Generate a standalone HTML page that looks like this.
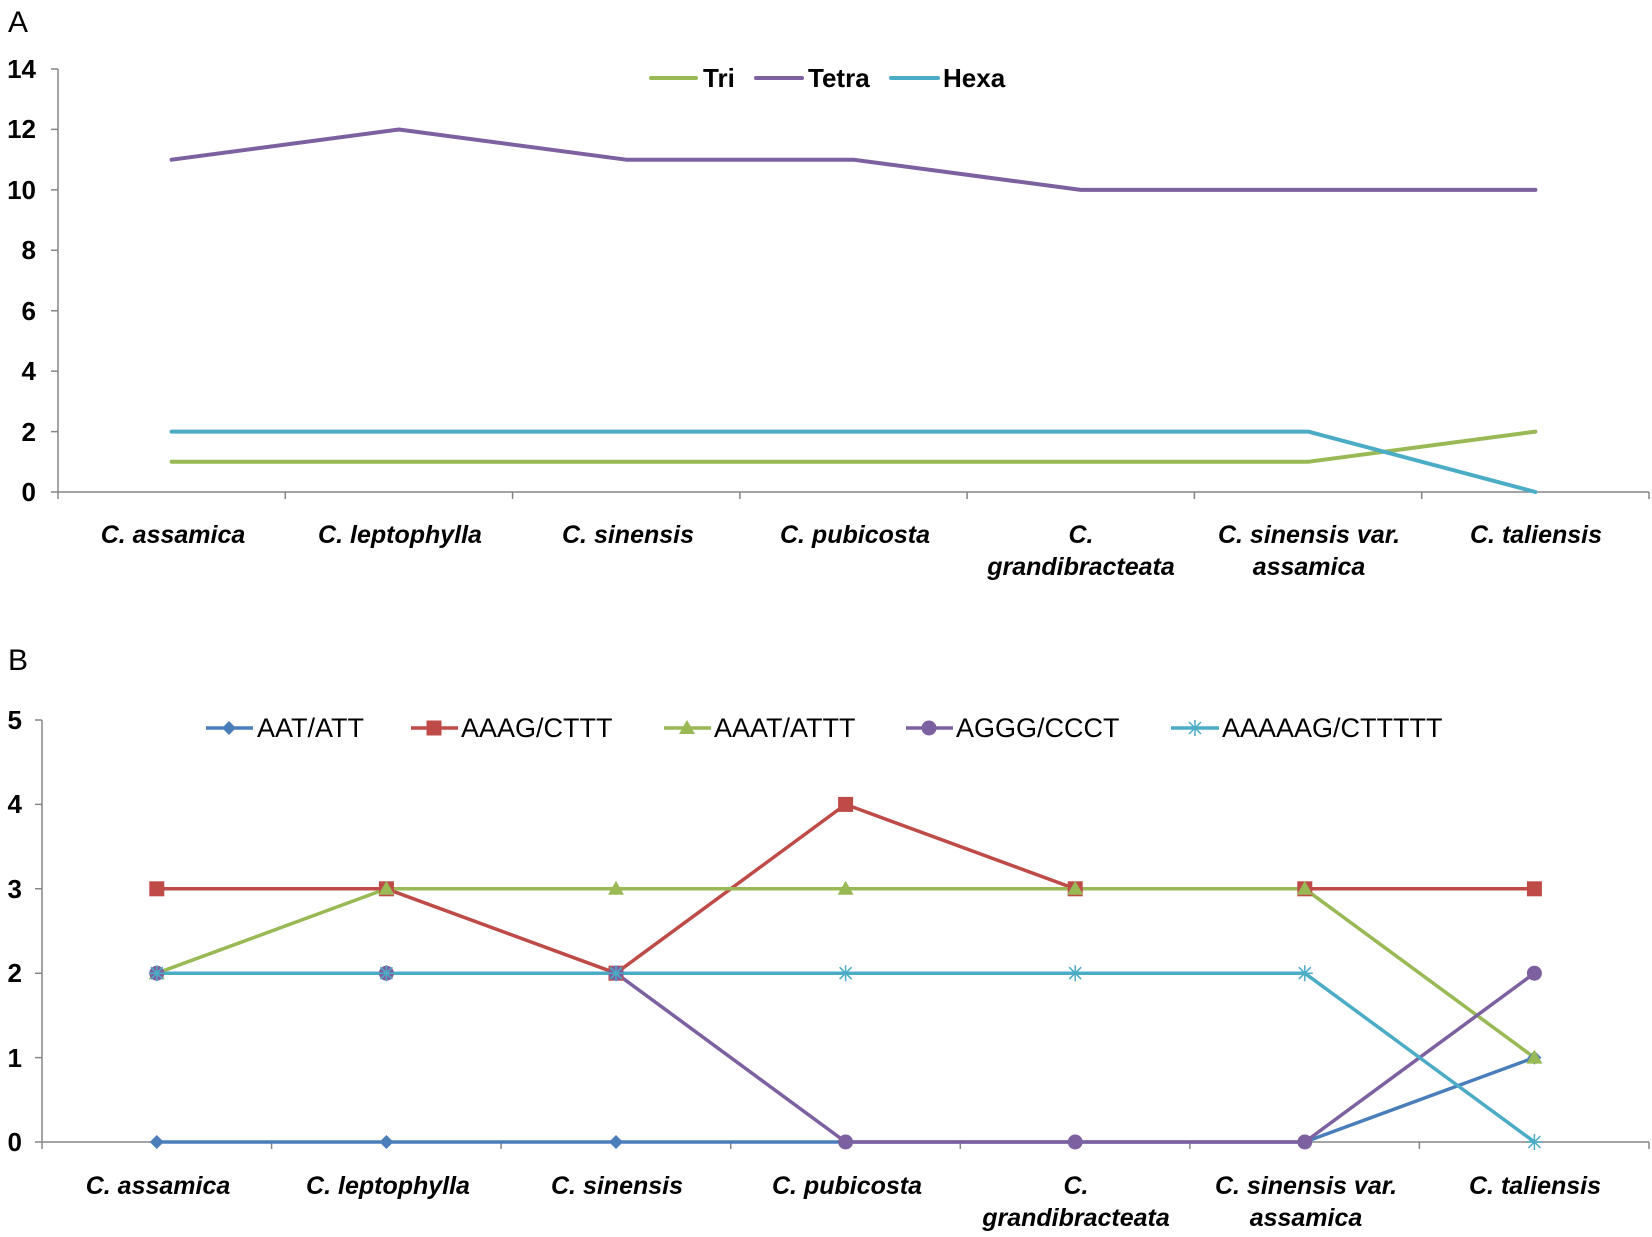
<!DOCTYPE html>
<html><head><meta charset="utf-8"><style>
html,body{margin:0;padding:0;background:#fff;}
svg{display:block;}
text{font-family:"Liberation Sans",Arial,sans-serif;}
.yl{font-size:26px;font-weight:bold;text-anchor:end;}
.cl{font-size:25px;font-weight:bold;font-style:italic;text-anchor:middle;}
.lg{font-size:26px;font-weight:bold;}
</style></head><body>
<svg width="1652" height="1237" viewBox="0 0 1652 1237" xmlns="http://www.w3.org/2000/svg">
<text x="8" y="32" style="font-size:30px;">A</text>
<text x="8" y="670" style="font-size:30px;">B</text>
<g stroke="#868686" stroke-width="1.5" fill="none">
<line x1="58" y1="69" x2="58" y2="492"/>
<line x1="58" y1="492" x2="1649" y2="492"/>
<path d="M51 69H58M51 129.4H58M51 189.9H58M51 250.3H58M51 310.7H58M51 371.1H58M51 431.6H58M51 492H58"/>
<path d="M58 492V499M285.3 492V499M512.6 492V499M739.9 492V499M967.1 492V499M1194.4 492V499M1421.7 492V499M1649 492V499"/>
<line x1="42" y1="720" x2="42" y2="1142"/>
<line x1="42" y1="1142" x2="1649" y2="1142"/>
<path d="M35 720H42M35 804.4H42M35 888.8H42M35 973.2H42M35 1057.6H42M35 1142H42"/>
<path d="M42 1142V1149M271.6 1142V1149M501.1 1142V1149M730.7 1142V1149M960.3 1142V1149M1189.9 1142V1149M1419.4 1142V1149M1649 1142V1149"/>
</g>
<g class="yl">
<text x="36" y="78" class="yl">14</text><text x="36" y="138" class="yl">12</text><text x="36" y="199" class="yl">10</text>
<text x="36" y="259" class="yl">8</text><text x="36" y="320" class="yl">6</text><text x="36" y="380" class="yl">4</text>
<text x="36" y="441" class="yl">2</text><text x="36" y="501" class="yl">0</text>
<text x="22" y="729" class="yl">5</text><text x="22" y="813" class="yl">4</text><text x="22" y="898" class="yl">3</text>
<text x="22" y="982" class="yl">2</text><text x="22" y="1067" class="yl">1</text><text x="22" y="1151" class="yl">0</text>
</g>
<!-- A series: y = 492 - v*30.21 -->
<g fill="none" stroke-width="4" stroke-linejoin="round" stroke-linecap="round">
<polyline stroke="#98b954" points="171.6,461.8 398.9,461.8 626.2,461.8 853.5,461.8 1080.8,461.8 1308.1,461.8 1535.4,431.6"/>
<polyline stroke="#7d60a0" points="171.6,159.7 398.9,129.5 626.2,159.7 853.5,159.7 1080.8,189.9 1308.1,189.9 1535.4,189.9"/>
<polyline stroke="#4bacc6" points="171.6,431.6 398.9,431.6 626.2,431.6 853.5,431.6 1080.8,431.6 1308.1,431.6 1535.4,492"/>
</g>
<g stroke-width="4" stroke-linecap="round">
<line x1="651" y1="78" x2="696" y2="78" stroke="#98b954"/>
<line x1="756" y1="78" x2="802" y2="78" stroke="#7d60a0"/>
<line x1="891" y1="78" x2="938" y2="78" stroke="#4bacc6"/>
</g>
<text x="703" y="87" class="lg">Tri</text>
<text x="808" y="87" class="lg">Tetra</text>
<text x="943" y="87" class="lg">Hexa</text>
<g class="cl">
<text x="173" y="543" class="cl">C. assamica</text>
<text x="400" y="543" class="cl">C. leptophylla</text>
<text x="628" y="543" class="cl">C. sinensis</text>
<text x="855" y="543" class="cl">C. pubicosta</text>
<text x="1081" y="543" class="cl">C.</text>
<text x="1081" y="575" class="cl">grandibracteata</text>
<text x="1309" y="543" class="cl">C. sinensis var.</text>
<text x="1309" y="575" class="cl">assamica</text>
<text x="1536" y="543" class="cl">C. taliensis</text>
</g>
<!-- B series: x centers 156.8 + 229.6*i ; y = 1142 - v*84.4 -->
<defs>
<path id="dia" d="M0,-7 L7,0 L0,7 L-7,0Z" fill="#4a7ebb"/>
<rect id="sq" x="-7.5" y="-7.5" width="15" height="15" fill="#be4b48"/>
<path id="tri" d="M0,-8 L8,6 L-8,6Z" fill="#98b954"/>
<circle id="cir" r="7.5" fill="#7d60a0"/>
<path id="star" d="M-8,0H8M0,-8V8M-6,-6L6,6M-6,6L6,-6" stroke="#4bacc6" stroke-width="1.5" fill="none"/>
</defs>
<g fill="none" stroke-width="3.5" stroke-linejoin="round">
<polyline stroke="#4a7ebb" points="156.8,1142 386.4,1142 616,1142 845.6,1142 1075.2,1142 1304.8,1142 1534.4,1057.6"/>
<polyline stroke="#be4b48" points="156.8,888.8 386.4,888.8 616,973.2 845.6,804.4 1075.2,888.8 1304.8,888.8 1534.4,888.8"/>
<polyline stroke="#98b954" points="156.8,973.2 386.4,888.8 616,888.8 845.6,888.8 1075.2,888.8 1304.8,888.8 1534.4,1057.6"/>
<polyline stroke="#7d60a0" points="156.8,973.2 386.4,973.2 616,973.2 845.6,1142 1075.2,1142 1304.8,1142 1534.4,973.2"/>
<polyline stroke="#4bacc6" points="156.8,973.2 386.4,973.2 616,973.2 845.6,973.2 1075.2,973.2 1304.8,973.2 1534.4,1142"/>
</g>
<g>
<use href="#dia" x="156.8" y="1142"/><use href="#dia" x="386.4" y="1142"/><use href="#dia" x="616" y="1142"/><use href="#dia" x="845.6" y="1142"/><use href="#dia" x="1075.2" y="1142"/><use href="#dia" x="1304.8" y="1142"/><use href="#dia" x="1534.4" y="1057.6"/>
<use href="#sq" x="156.8" y="888.8"/><use href="#sq" x="386.4" y="888.8"/><use href="#sq" x="616" y="973.2"/><use href="#sq" x="845.6" y="804.4"/><use href="#sq" x="1075.2" y="888.8"/><use href="#sq" x="1304.8" y="888.8"/><use href="#sq" x="1534.4" y="888.8"/>
<use href="#tri" x="156.8" y="973.2"/><use href="#tri" x="386.4" y="888.8"/><use href="#tri" x="616" y="888.8"/><use href="#tri" x="845.6" y="888.8"/><use href="#tri" x="1075.2" y="888.8"/><use href="#tri" x="1304.8" y="888.8"/><use href="#tri" x="1534.4" y="1057.6"/>
<use href="#cir" x="156.8" y="973.2"/><use href="#cir" x="386.4" y="973.2"/><use href="#cir" x="616" y="973.2"/><use href="#cir" x="845.6" y="1142"/><use href="#cir" x="1075.2" y="1142"/><use href="#cir" x="1304.8" y="1142"/><use href="#cir" x="1534.4" y="973.2"/>
<use href="#star" x="156.8" y="973.2"/><use href="#star" x="386.4" y="973.2"/><use href="#star" x="616" y="973.2"/><use href="#star" x="845.6" y="973.2"/><use href="#star" x="1075.2" y="973.2"/><use href="#star" x="1304.8" y="973.2"/><use href="#star" x="1534.4" y="1142"/>
</g>
<!-- legend B -->
<g stroke-width="3.5">
<line x1="206" y1="728" x2="253" y2="728" stroke="#4a7ebb"/>
<line x1="411" y1="728" x2="458" y2="728" stroke="#be4b48"/>
<line x1="664" y1="728" x2="711" y2="728" stroke="#98b954"/>
<line x1="906" y1="728" x2="953" y2="728" stroke="#7d60a0"/>
<line x1="1171" y1="728" x2="1219" y2="728" stroke="#4bacc6"/>
</g>
<use href="#dia" x="229" y="728"/><use href="#sq" x="434" y="728"/><use href="#tri" x="687" y="728"/><use href="#cir" x="929" y="728"/><use href="#star" x="1195" y="728"/>
<text x="257" y="737" class="lg" style="font-weight:normal;font-size:27px">AAT/ATT</text>
<text x="461" y="737" class="lg" style="font-weight:normal;font-size:27px">AAAG/CTTT</text>
<text x="714" y="737" class="lg" style="font-weight:normal;font-size:27px">AAAT/ATTT</text>
<text x="956" y="737" class="lg" style="font-weight:normal;font-size:27px">AGGG/CCCT</text>
<text x="1222" y="737" class="lg" style="font-weight:normal;font-size:27px">AAAAAG/CTTTTT</text>
<g class="cl">
<text x="158" y="1194" class="cl">C. assamica</text>
<text x="388" y="1194" class="cl">C. leptophylla</text>
<text x="617" y="1194" class="cl">C. sinensis</text>
<text x="847" y="1194" class="cl">C. pubicosta</text>
<text x="1076" y="1194" class="cl">C.</text>
<text x="1076" y="1226" class="cl">grandibracteata</text>
<text x="1306" y="1194" class="cl">C. sinensis var.</text>
<text x="1306" y="1226" class="cl">assamica</text>
<text x="1535" y="1194" class="cl">C. taliensis</text>
</g>
</svg>
</body></html>
